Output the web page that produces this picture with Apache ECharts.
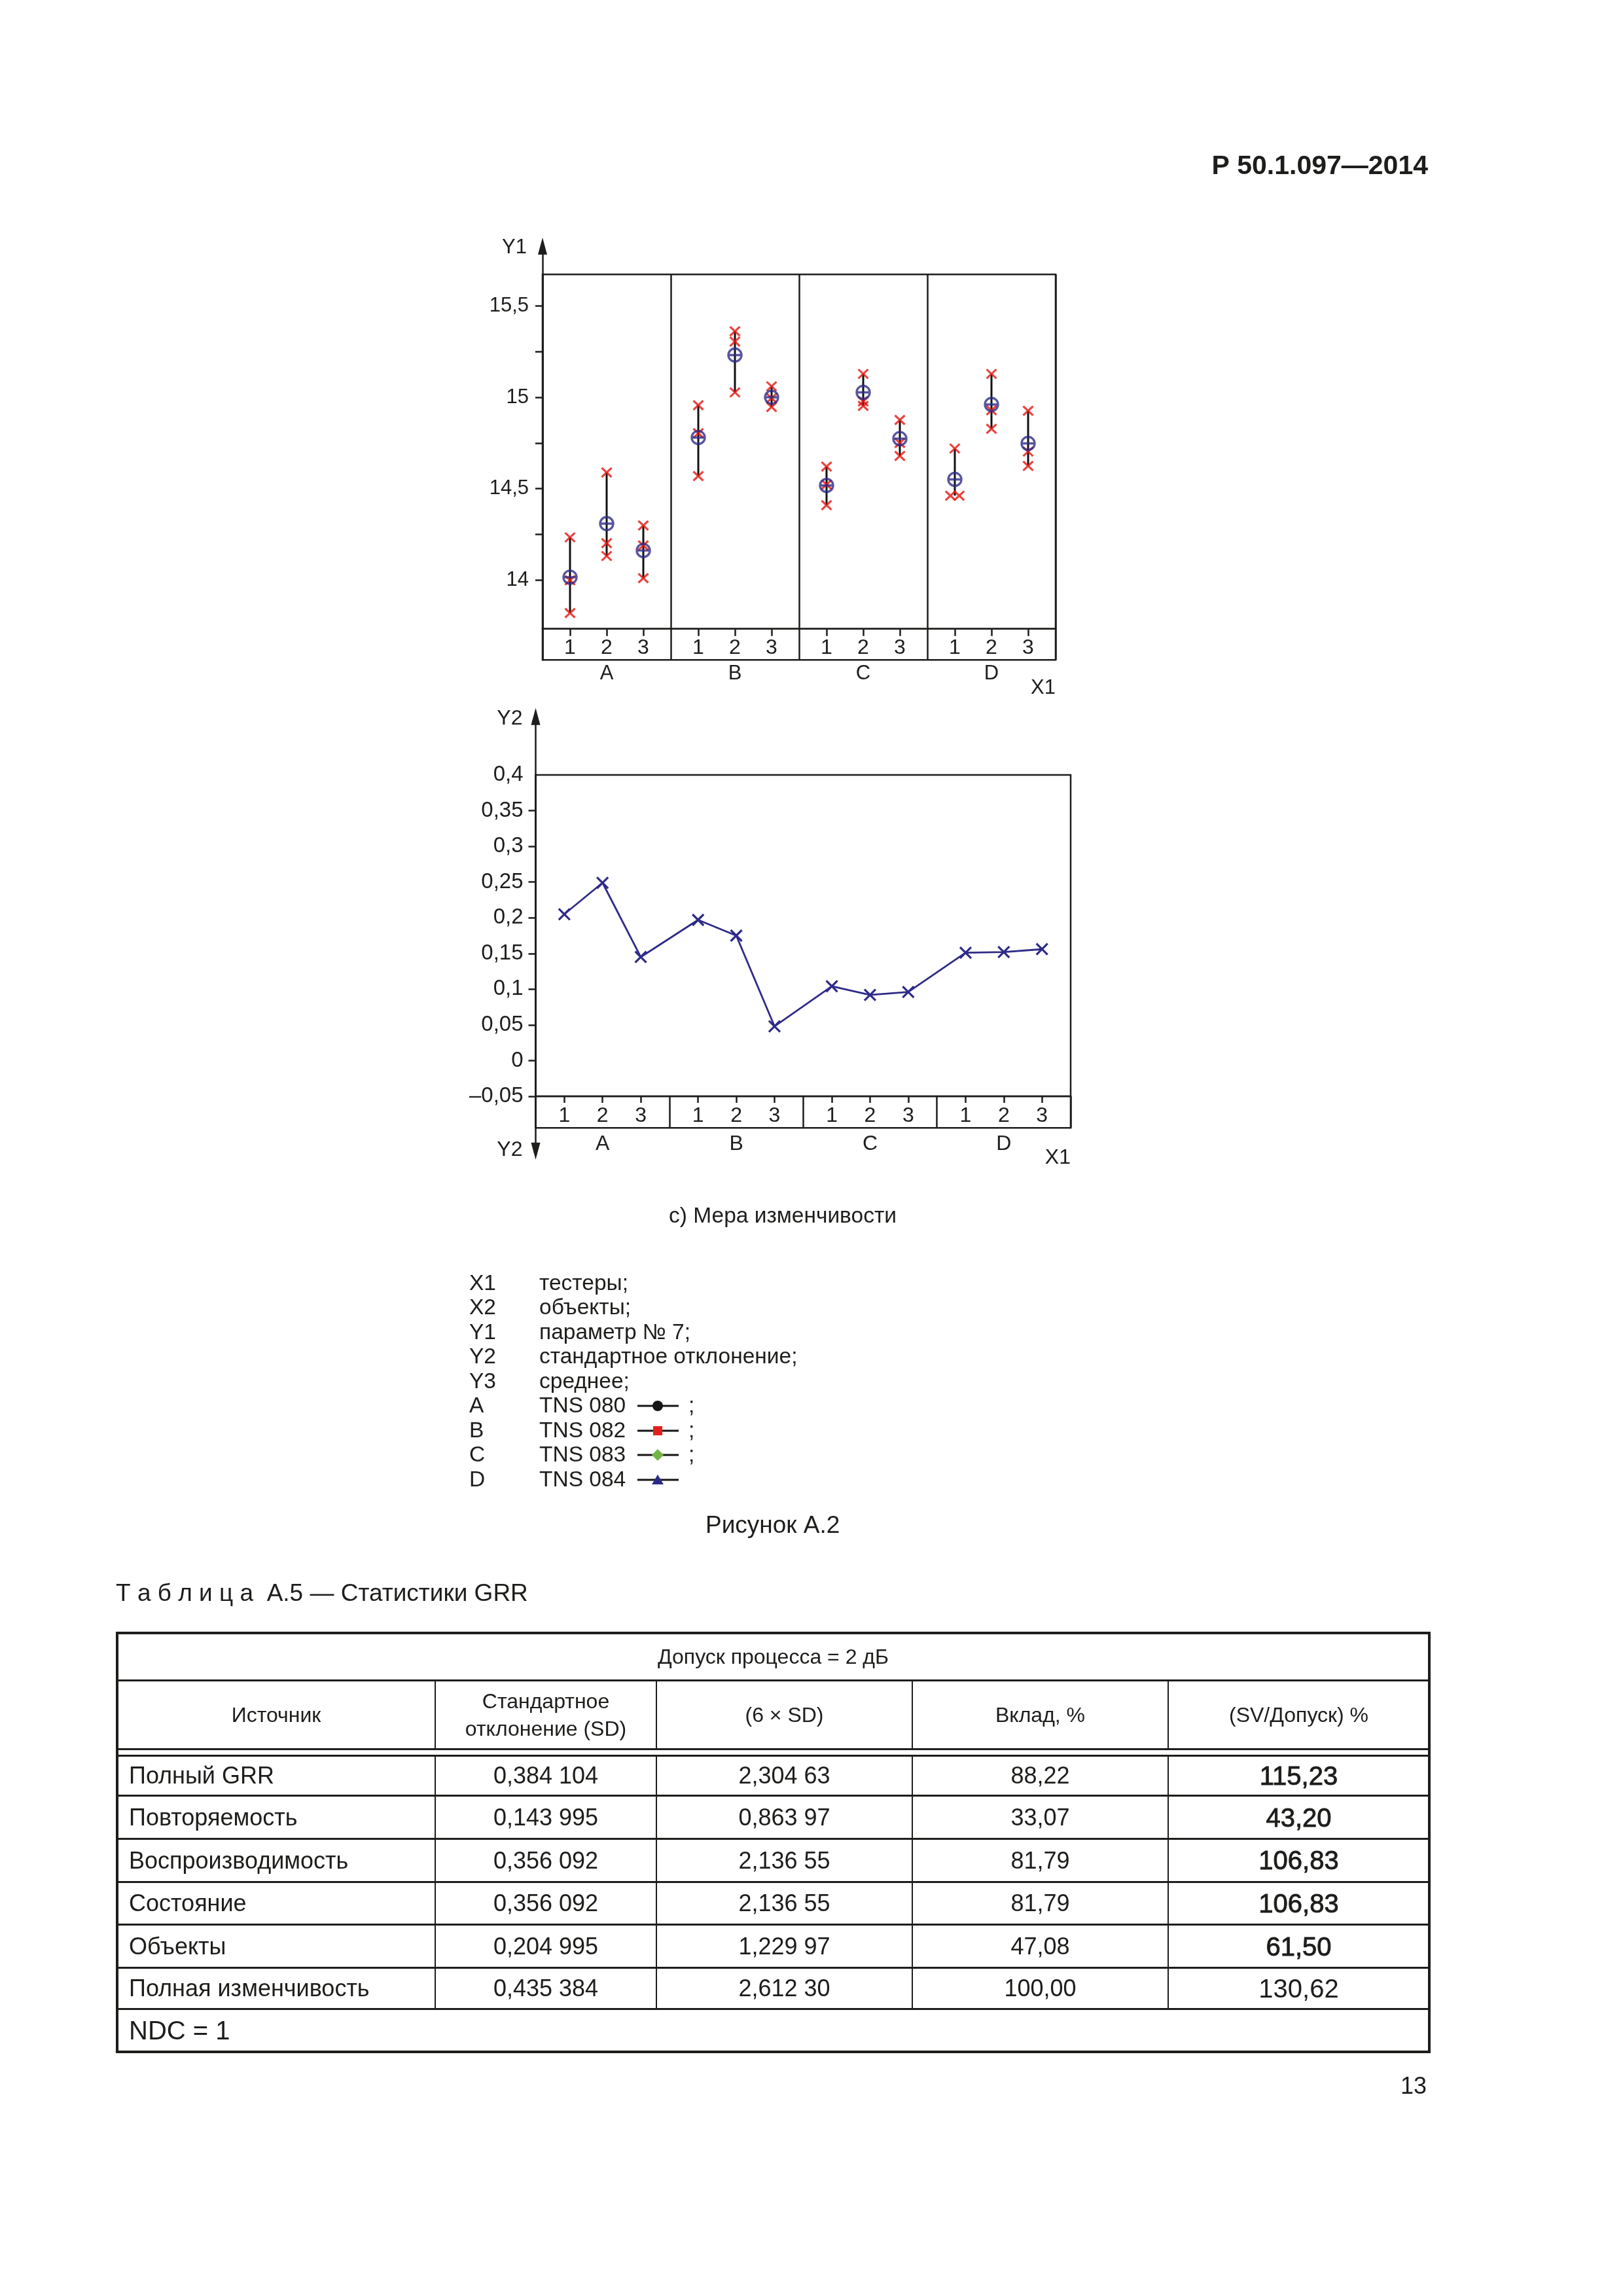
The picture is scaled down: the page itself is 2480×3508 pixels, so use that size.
<!DOCTYPE html>
<html lang="ru">
<head>
<meta charset="utf-8">
<title>Рисунок А.2 — Мера изменчивости</title>
<script src="https://cdn.jsdelivr.net/npm/echarts@6.0.0/dist/echarts.min.js"></script>
<style>
html, body { margin: 0; padding: 0; background: #fff; }
#page { position: relative; width: 2480px; height: 3508px; overflow: hidden; background: #fff;
        font-family: 'Liberation Sans', Arial, sans-serif; color: #1d1d1b; }
#chart { position: absolute; left: 0; top: 0; width: 2480px; height: 3508px; }
#overlay { position: absolute; left: 0; top: 0; width: 2480px; height: 3508px; }
.t { position: absolute; white-space: pre; line-height: 1; }
</style>
</head>
<body>
<div id="page"><div id="chart"></div><div id="overlay"></div></div>
<script>
// ---------------- DATA ----------------
const groupLabels = ['A', 'B', 'C', 'D'];            // testers (X1)
const cellLabels = ['1', '2', '3'];                  // objects within each tester
// parameter No 7: three readings per tester/object cell (A1..A3, B1..B3, C1..C3, D1..D3)
const trial1 = [14.234, 14.589, 14.299, 14.957, 15.361, 15.060, 14.621, 15.128, 14.876, 14.720, 15.128, 14.926];
const trial2 = [13.999, 14.202, 14.190, 14.804, 15.305, 14.995, 14.523, 14.977, 14.750, 14.462, 14.929, 14.703];
const trial3 = [13.820, 14.132, 14.011, 14.569, 15.027, 14.947, 14.410, 14.953, 14.679, 14.462, 14.828, 14.625];
const cellMeans = [14.016, 14.309, 14.162, 14.780, 15.231, 15.000, 14.518, 15.027, 14.774, 14.551, 14.961, 14.748];
// standard deviation per cell (lower chart)
const cellSD = [0.205, 0.249, 0.145, 0.197, 0.175, 0.048, 0.104, 0.092, 0.096, 0.151, 0.152, 0.156];
// tick values
const y1Ticks = [14, 14.25, 14.5, 14.75, 15, 15.25, 15.5];
const y1Labels = [14, 14.5, 15, 15.5];
const y2Ticks = [-0.05, 0, 0.05, 0.1, 0.15, 0.2, 0.25, 0.3, 0.35];

// legend list
const legendKeys = ['X1', 'X2', 'Y1', 'Y2', 'Y3', 'A', 'B', 'C', 'D'];
const legendTexts = ['тестеры;', 'объекты;', 'параметр № 7;', 'стандартное отклонение;', 'среднее;',
                     'TNS 080', 'TNS 082', 'TNS 083', 'TNS 084'];

// table A.5
const tableHeaders = ['Источник', 'Стандартное\nотклонение (SD)', '(6 × SD)', 'Вклад, %', '(SV/Допуск) %'];
const rowNames = ['Полный GRR', 'Повторяемость', 'Воспроизводимость', 'Состояние', 'Объекты', 'Полная изменчивость'];
const colSD = ['0,384 104', '0,143 995', '0,356 092', '0,356 092', '0,204 995', '0,435 384'];
const col6SD = ['2,304 63', '0,863 97', '2,136 55', '2,136 55', '1,229 97', '2,612 30'];
const colContrib = ['88,22', '33,07', '81,79', '81,79', '47,08', '100,00'];
const colSVTol = ['115,23', '43,20', '106,83', '106,83', '61,50', '130,62'];

// ---------------- LAYOUT HELPERS ----------------
const FONT = "'Liberation Sans', Arial, sans-serif";
const INK = '#1d1d1b';
const RED = '#e3170f';
const BLUE = '#2e2a88';

// each tester occupies 3.5 axis units; objects at 0.75, 1.75, 2.75 inside it
const cellX = i => Math.floor(i / 3) * 3.5 + 0.75 + (i % 3);
const cellPositions = trial1.map((_, i) => cellX(i));
const groupCenters = groupLabels.map((_, g) => g * 3.5 + 1.75);
const cellLabelOf = v => cellLabels[Math.round((v % 3.5) - 0.75)];
const groupLabelOf = v => groupLabels[Math.floor(v / 3.5)];
const commaFmt = v => {
  const r = Math.round(v * 100) / 100;
  const s = String(Math.abs(r)).replace('.', ',');
  return r < 0 ? '\u2013' + s : s;
};

// readings as scatter points (identical readings in one cell are spread sideways)
const trialPoints = [];
const rangeData = [];
trial1.forEach((_, i) => {
  const vals = [trial1[i], trial2[i], trial3[i]];
  vals.forEach((v, k) => {
    const same = vals.filter(u => u === v).length > 1;
    const dx = same ? (vals.indexOf(v) === k ? -0.12 : 0.12) : 0;
    trialPoints.push([cellX(i) + dx, v]);
  });
  rangeData.push([cellX(i), Math.min(...vals), Math.max(...vals)]);
});
const meanPoints = cellMeans.map((v, i) => [cellX(i), v]);
const sdPoints = cellSD.map((v, i) => [cellX(i), v]);

const X_PATH = 'path://M0,0L10,10M10,0L0,10';
const MEAN_PATH = 'path://M0,10A10,10 0 1 1 20,10A10,10 0 1 1 0,10ZM0,10L20,10';

const lbl = (size, extra) => Object.assign({ fontSize: size, color: INK, fontFamily: FONT }, extra || {});
const hx = (gridIndex, extra) => Object.assign({
  type: 'value', gridIndex, min: 0, max: 14,
  axisLine: { show: false, onZero: false }, axisTick: { show: false }, axisLabel: { show: false }, splitLine: { show: false }
}, extra);
const sepLine = { show: true, lineStyle: { color: INK, width: 2.5 } };
const frame = { show: true, borderColor: INK, borderWidth: 2.5, backgroundColor: 'transparent',
                containLabel: false, outerBoundsMode: 'none' };

const option = {
  animation: false,
  backgroundColor: 'transparent',
  textStyle: { fontFamily: FONT, color: INK },
  grid: [
    { left: 829, top: 376, width: 784, height: 632.3, show: false, containLabel: false, outerBoundsMode: 'none' }, // 0 Y1 arrow
    Object.assign({ left: 829, top: 419.3, width: 784, height: 541.4 }, frame),   // 1 upper plot
    Object.assign({ left: 829, top: 960.7, width: 784, height: 47.6 }, frame),    // 2 upper label band
    { left: 818.5, top: 1094.7, width: 817.5, height: 664, show: false, containLabel: false, outerBoundsMode: 'none' }, // 3 Y2 arrows
    Object.assign({ left: 818.5, top: 1184, width: 817.5, height: 491 }, frame),  // 4 lower plot
    Object.assign({ left: 818.5, top: 1675, width: 817.5, height: 48.3 }, frame)  // 5 lower label band
  ],
  xAxis: [
    hx(0, { show: false }),
    hx(1, { position: 'bottom',
      axisTick: { show: true, customValues: cellPositions, length: 11, lineStyle: { color: INK, width: 2.5 } },
      axisLabel: lbl(32, { show: true, customValues: cellPositions, formatter: v => cellLabelOf(v), margin: 13 }) }),
    hx(1, { position: 'top', interval: 3.5, splitLine: sepLine }),
    hx(2, { position: 'bottom',
      axisLabel: lbl(31, { show: true, customValues: groupCenters, formatter: v => groupLabelOf(v), margin: 6 }),
      name: 'X1', nameLocation: 'end', nameGap: 0,
      nameTextStyle: lbl(31, { align: 'right', verticalAlign: 'top', padding: [28, 0, 0, 0] }) }),
    hx(2, { position: 'top', interval: 3.5, splitLine: sepLine }),
    hx(3, { show: false }),
    hx(4, { position: 'bottom',
      axisTick: { show: true, customValues: cellPositions, length: 10, lineStyle: { color: INK, width: 2.5 } },
      axisLabel: lbl(32, { show: true, customValues: cellPositions, formatter: v => cellLabelOf(v), margin: 14 }) }),
    hx(5, { position: 'bottom',
      axisLabel: lbl(32, { show: true, customValues: groupCenters, formatter: v => groupLabelOf(v), margin: 9 }),
      name: 'X1', nameLocation: 'end', nameGap: 0,
      nameTextStyle: lbl(32, { align: 'right', verticalAlign: 'top', padding: [30, 0, 0, 0] }) }),
    hx(5, { position: 'top', interval: 3.5, splitLine: sepLine })
  ],
  yAxis: [
    { type: 'value', gridIndex: 0, min: 0, max: 1,
      axisLine: { show: true, onZero: false, symbol: ['none', 'triangle'], symbolSize: [14, 26], lineStyle: { color: INK, width: 2.5 } },
      axisTick: { show: false }, axisLabel: { show: false }, splitLine: { show: false },
      name: 'Y1', nameLocation: 'end', nameGap: -2,
      nameTextStyle: lbl(31, { align: 'right', verticalAlign: 'middle', padding: [0, 24, 0, 0] }) },
    { type: 'value', gridIndex: 1, min: 13.734, max: 15.672,
      axisLine: { show: true, onZero: false, lineStyle: { color: INK, width: 2.5 } },
      axisTick: { show: true, customValues: y1Ticks, length: 11, lineStyle: { color: INK, width: 2.5 } },
      axisLabel: lbl(31, { customValues: y1Labels, formatter: commaFmt, margin: 21 }),
      splitLine: { show: false } },
    { type: 'value', gridIndex: 2, min: 0, max: 1, show: false, splitLine: { show: false } },
    { type: 'value', gridIndex: 3, min: 0, max: 1,
      axisLine: { show: true, onZero: false, symbol: ['triangle', 'triangle'], symbolSize: [14, 26], lineStyle: { color: INK, width: 2.5 } },
      axisTick: { show: false }, axisLabel: { show: false }, splitLine: { show: false },
      name: 'Y2', nameLocation: 'end', nameGap: -3.6,
      nameTextStyle: lbl(32, { align: 'right', verticalAlign: 'middle', padding: [0, 20, 0, 0] }) },
    { type: 'value', gridIndex: 3, min: 0, max: 1, position: 'left', offset: 0,
      axisLine: { show: false, onZero: false }, axisTick: { show: false }, axisLabel: { show: false }, splitLine: { show: false },
      name: 'Y2', nameLocation: 'start', nameGap: -2,
      nameTextStyle: lbl(32, { align: 'right', verticalAlign: 'middle', padding: [0, 20, 0, 0] }) },
    { type: 'value', gridIndex: 4, min: -0.05, max: 0.4, interval: 0.05,
      axisLine: { show: true, onZero: false, lineStyle: { color: INK, width: 2.5 } },
      axisTick: { show: true, customValues: y2Ticks, length: 11, lineStyle: { color: INK, width: 2.5 } },
      axisLabel: lbl(33, { formatter: commaFmt, margin: 19 }),
      splitLine: { show: false } },
    { type: 'value', gridIndex: 5, min: 0, max: 1, show: false, splitLine: { show: false } }
  ],
  series: [
    { name: 'Размах', type: 'custom', coordinateSystem: 'cartesian2d', xAxisIndex: 1, yAxisIndex: 1, z: 2,
      data: rangeData, encode: { x: 0, y: [1, 2] },
      renderItem: (params, api) => {
        const p1 = api.coord([api.value(0), api.value(1)]);
        const p2 = api.coord([api.value(0), api.value(2)]);
        return { type: 'line', shape: { x1: p1[0], y1: p1[1], x2: p2[0], y2: p2[1] },
                 style: { stroke: '#111', lineWidth: 3 } };
      } },
    { name: 'Измерения', type: 'scatter', xAxisIndex: 1, yAxisIndex: 1, z: 3,
      data: trialPoints, symbol: X_PATH, symbolSize: [15, 14],
      itemStyle: { color: 'none', borderColor: RED, borderWidth: 3.2 } },
    { name: 'Среднее', type: 'scatter', xAxisIndex: 1, yAxisIndex: 1, z: 4,
      data: meanPoints, symbol: MEAN_PATH, symbolSize: 20,
      itemStyle: { color: 'none', borderColor: BLUE, borderWidth: 3.4 } },
    { name: 'Стандартное отклонение', type: 'line', xAxisIndex: 6, yAxisIndex: 5, z: 3,
      data: sdPoints, symbol: X_PATH, symbolSize: 17, showSymbol: true,
      lineStyle: { color: BLUE, width: 2.8 },
      itemStyle: { color: 'none', borderColor: BLUE, borderWidth: 3.2 } }
  ]
};

const chart = echarts.init(document.getElementById('chart'), null, { renderer: 'canvas' });
chart.setOption(option);

// ---------------- PAGE TEXT ----------------
const overlay = document.getElementById('overlay');
function txt(text, x, baseline, fs, opts) {
  opts = opts || {};
  const d = document.createElement('div');
  d.className = 't';
  d.textContent = text;
  d.style.fontSize = fs + 'px';
  d.style.top = (baseline - 0.8465 * fs) + 'px';
  if (opts.right) d.style.right = (2480 - x) + 'px'; else d.style.left = x + 'px';
  if (opts.bold) d.style.fontWeight = 'bold';
  if (opts.css) d.style.cssText += opts.css;
  overlay.appendChild(d);
  return d;
}
txt('Р 50.1.097\u20142014', 2182, 266.7, 41, { right: true, bold: true });
txt('c) Мера изменчивости', 1022, 1868, 33.5);

// legend
const legendMarkers = [null, null, null, null, null,
  '<circle cx="32" cy="12" r="8" fill="#151515"/>',
  '<rect x="25" y="5" width="14" height="14" fill="#e3211c"/>',
  '<polygon points="32,3 41,12 32,21 23,12" fill="#73b545"/>',
  '<polygon points="32,4 41,19 23,19" fill="#2b2a8c"/>'];
legendKeys.forEach((k, i) => {
  const base = 1971 + i * 37.5;
  txt(k, 717, base, 33.5);
  txt(legendTexts[i], 824, base, 33.5);
  if (legendMarkers[i]) {
    const s = document.createElementNS('http://www.w3.org/2000/svg', 'svg');
    s.setAttribute('width', '66'); s.setAttribute('height', '24');
    s.style.position = 'absolute'; s.style.left = '973px'; s.style.top = (base - 10.5 - 12) + 'px';
    s.innerHTML = '<line x1="1" y1="12" x2="64" y2="12" stroke="#151515" stroke-width="3"/>' + legendMarkers[i];
    overlay.appendChild(s);
    if (i < legendKeys.length - 1) txt(';', 1052, base, 33.5);
  }
});
txt('Рисунок А.2', 1078, 2342, 37);
txt('Т а б л и ц а\u00a0\u00a0А.5 \u2014 Статистики GRR', 177, 2446, 37);
txt('13', 2180, 3199, 36, { right: true });

// ---------------- TABLE ----------------
const colX = [179, 665, 1003, 1394, 1785, 2184];
const TL = colX[0], TR = colX[5];
const yTop = 2495, yTitle = 2567, yHead1 = 2672, yHead2 = 2682, yBottom = 3135;
const rowEdges = [2682, 2743.5, 2809.5, 2875, 2940.5, 3006.5, 3069.5];
function rect(x, y, w, h) {
  const d = document.createElement('div');
  d.style.cssText = `position:absolute;left:${x}px;top:${y}px;width:${w}px;height:${h}px;background:${INK};`;
  overlay.appendChild(d);
}
function hline(y, w) { rect(TL - 2, y - w / 2, TR - TL + 4, w); }
function vline(x, y0, y1, w) { rect(x - w / 2, y0, w, y1 - y0); }
hline(yTop, 4); hline(yTitle, 3); hline(yHead1, 3); hline(yHead2, 3);
rowEdges.slice(1).forEach(y => hline(y, 3));
hline(yBottom, 4);
vline(TL, yTop - 2, yBottom + 2, 4); vline(TR, yTop - 2, yBottom + 2, 4);
colX.slice(1, 5).forEach(x => { vline(x, yTitle, yHead1, 2.5); vline(x, yHead2, rowEdges[6], 2.5); });

function cell(x0, x1, y0, y1, text, fs, align, extra) {
  const d = document.createElement('div');
  d.style.cssText = `position:absolute;left:${x0}px;top:${y0}px;width:${x1 - x0}px;height:${y1 - y0}px;` +
    `display:flex;align-items:center;justify-content:${align === 'left' ? 'flex-start' : 'center'};` +
    `text-align:${align};font-size:${fs}px;line-height:1.2;white-space:pre;box-sizing:border-box;` +
    `padding-left:${align === 'left' ? 18 : 0}px;` + (extra || '');
  d.textContent = text;
  overlay.appendChild(d);
}
cell(TL, TR, yTop, yTitle, 'Допуск процесса = 2 дБ', 32, 'center');
tableHeaders.forEach((h, c) => cell(colX[c], colX[c + 1], yTitle, yHead1, h, 32, 'center', 'line-height:42px;'));
const bodyCols = [rowNames, colSD, col6SD, colContrib, colSVTol];
rowNames.forEach((_, r) => {
  bodyCols.forEach((col, c) => {
    const strong = c === 4 && r < 5;
    cell(colX[c], colX[c + 1], rowEdges[r], rowEdges[r + 1], col[r], c === 4 ? 40 : 36,
         c === 0 ? 'left' : 'center', strong ? '-webkit-text-stroke:0.9px ' + INK + ';' : '');
  });
});
cell(TL, TR, rowEdges[6], yBottom, 'NDC = 1', 40, 'left');
</script>
</body>
</html>
